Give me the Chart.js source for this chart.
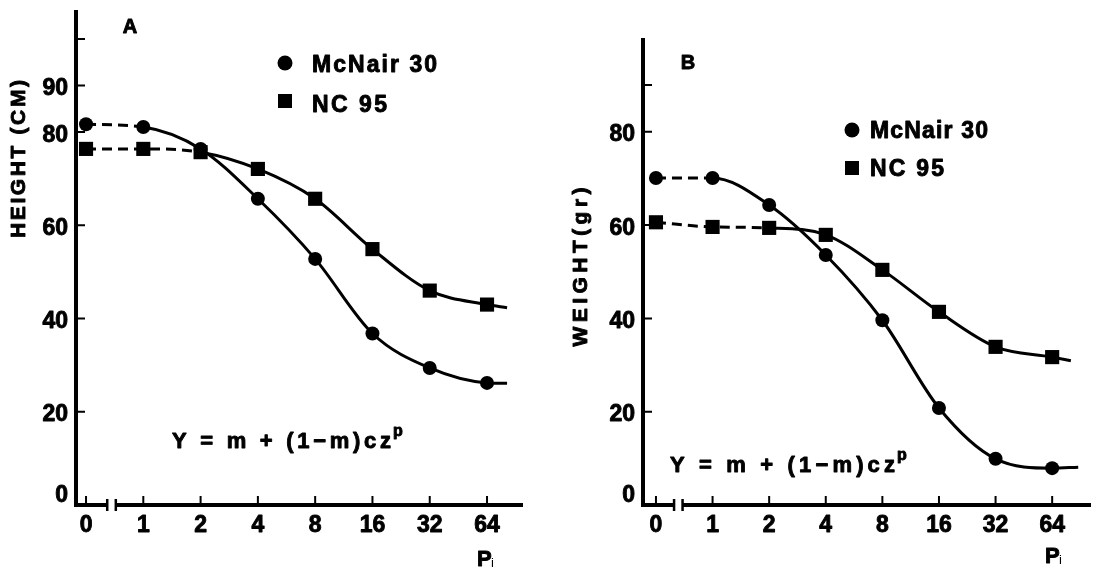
<!DOCTYPE html>
<html><head><meta charset="utf-8">
<script src="https://cdn.jsdelivr.net/npm/chart.js@4.4.1/dist/chart.umd.min.js"></script>
<style>
html,body{margin:0;padding:0;background:#fff;width:1101px;height:571px;overflow:hidden}
canvas{position:absolute;top:0}
#a{left:0}
#b{left:550px}
</style></head><body>
<canvas id="a" width="550" height="571"></canvas>
<canvas id="b" width="551" height="571"></canvas>
<script>
// ---- data ----
const pLevels = [0, 1, 2, 3, 4, 5, 6, 7];            // evenly spaced positions of the P levels
const pLabels = ["0", "1", "2", "4", "8", "16", "32", "64"];
const heightMcNair = [81.7, 81.1, 76.4, 65.7, 52.8, 36.8, 29.4, 26.2];
const heightNC95   = [76.4, 76.4, 75.7, 72.1, 65.7, 54.9, 46.0, 43.0];
const weightMcNair = [70.1, 70.1, 64.3, 53.6, 39.6, 20.8, 9.9, 7.9];
const weightNC95   = [60.6, 59.6, 59.4, 57.9, 50.4, 41.4, 33.9, 31.7];
// where the fitted curves end, past the last observed point
const heightMcNairEnd = {x: 7.35, y: 26.1};
const heightNC95End   = {x: 7.35, y: 42.3};
const weightMcNairEnd = {x: 7.46, y: 8.1};
const weightNC95End   = {x: 7.33, y: 30.9};
const heightTicks = [0, 20, 40, 60, 80, 90, 100];
const heightTickLabels = ["0", "20", "40", "60", "80", "90", ""];
const weightTicks = [0, 20, 40, 60, 80, 90];
const weightTickLabels = ["0", "20", "40", "60", "80", ""];
const seriesNames = ["McNair 30", "NC 95"];

const FONT = '"Liberation Sans", Arial, sans-serif';
const HEAVY = 0.9;

function heavyText(ctx, s, x, y) {
  ctx.fillText(s, x, y);
  ctx.lineWidth = HEAVY; ctx.lineJoin = 'round';
  ctx.strokeText(s, x, y);
}

function fitText(ctx, str, x, yc, w, size, weight) {
  ctx.font = (weight || 'bold') + ' ' + size + 'px ' + FONT;
  ctx.textAlign = 'left';
  ctx.textBaseline = 'alphabetic';
  const chars = [...str];
  const widths = chars.map(c => ctx.measureText(c).width);
  const nat = widths.reduce((a, b) => a + b, 0);
  const gap = chars.length > 1 ? (w - nat) / (chars.length - 1) : 0;
  let cx = x;
  const base = yc + 0.36 * size;
  chars.forEach((c, i) => { heavyText(ctx, c, cx, base); cx += widths[i] + gap; });
}

function series(name, vals, end, style, dashUntil) {
  const data = vals.map((v, i) => ({x: pLevels[i], y: v}));
  data.push(end);
  const r = style === 'circle' ? 7 : 10;
  return {
    label: name, data,
    borderColor: '#000', backgroundColor: '#000', borderWidth: 3,
    pointStyle: style,
    pointRadius: c => c.dataIndex === data.length - 1 ? 0 : r,
    pointHoverRadius: c => c.dataIndex === data.length - 1 ? 0 : r,
    pointBorderWidth: 0,
    cubicInterpolationMode: 'monotone',
    fill: false,
    segment: { borderDash: c => c.p1DataIndex <= dashUntil ? [10, 6] : undefined }
  };
}

function decorPlugin(cfg) {
  return {
    id: 'decor',
    afterDraw(chart) {
      const ctx = chart.ctx, ox = cfg.ox;
      const {left, right, top, bottom} = chart.chartArea;
      const xs = chart.scales.x, ys = chart.scales.y;
      ctx.save();
      ctx.strokeStyle = '#000'; ctx.fillStyle = '#000'; ctx.lineCap = 'butt';
      // y axis
      ctx.lineWidth = 4;
      ctx.beginPath(); ctx.moveTo(left, top); ctx.lineTo(left, bottom + 2); ctx.stroke();
      // x axis with break
      const b0 = xs.getPixelForValue(cfg.brk[0]), b1 = xs.getPixelForValue(cfg.brk[1]);
      ctx.beginPath(); ctx.moveTo(left - 2, bottom); ctx.lineTo(b0, bottom);
      ctx.moveTo(b1, bottom); ctx.lineTo(right, bottom); ctx.stroke();
      ctx.lineWidth = 2.5;
      ctx.beginPath();
      [b0, b1].forEach(bx => { ctx.moveTo(bx, bottom - 6); ctx.lineTo(bx, bottom + 6); });
      ctx.stroke();
      // inward tick marks
      ctx.lineWidth = 2;
      ctx.beginPath();
      pLevels.forEach(v => { const px = xs.getPixelForValue(v); ctx.moveTo(px, bottom - 2); ctx.lineTo(px, bottom - 9); });
      cfg.yTicks.forEach(v => { if (v === 0) return; const py = ys.getPixelForValue(v); ctx.moveTo(left + 2, py); ctx.lineTo(left + 9, py); });
      ctx.stroke();
      // tick labels, placed with the chart's scales
      ctx.font = 'bold 23px ' + FONT; ctx.textBaseline = 'alphabetic';
      ctx.textAlign = 'center';
      pLevels.forEach((v, i) => heavyText(ctx, pLabels[i], xs.getPixelForValue(v), bottom + 27));
      ctx.textAlign = 'right';
      cfg.yTicks.forEach((v, i) => {
        const py = v === 0 ? bottom - 12 : ys.getPixelForValue(v) + 1;
        heavyText(ctx, cfg.yLabels[i], left - 8, py + 8.5);
      });
      // panel letter
      ctx.font = 'bold 20px ' + FONT; ctx.textAlign = 'center';
      heavyText(ctx, cfg.letter, cfg.letterPos[0] - ox, cfg.letterPos[1] + 7);
      // legend
      const L = cfg.legend;
      ctx.beginPath(); ctx.arc(L.cx - ox, L.y1, 7.5, 0, Math.PI * 2); ctx.fill();
      ctx.fillRect(L.cx - ox - 7, L.y2 - 7, 14, 14);
      fitText(ctx, seriesNames[0], L.tx - ox, L.t1, L.w1, 23);
      fitText(ctx, seriesNames[1], L.tx - ox, L.t2, L.w2, 23);
      // formula
      const F = cfg.formula;
      fitText(ctx, 'Y = m + (1\u2212m)cz', F.x - ox, F.y, F.w, 22);
      ctx.font = 'bold 16px ' + FONT; ctx.textAlign = 'left';
      heavyText(ctx, 'p', F.x + F.w + 2 - ox, F.y - 4);
      // y title
      ctx.save();
      ctx.translate(cfg.title.x - ox, cfg.title.y); ctx.rotate(-Math.PI / 2);
      fitText(ctx, cfg.title.text, -cfg.title.w / 2, 0, cfg.title.w, 21);
      ctx.restore();
      // x title P_i
      ctx.font = 'bold 22px ' + FONT; ctx.textAlign = 'left';
      heavyText(ctx, 'P', cfg.pPos[0] - ox, cfg.pPos[1] + 8);
      ctx.font = '13px ' + FONT;
      ctx.fillText('i', cfg.pPos[0] + 14 - ox, cfg.pPos[1] + 9);
      ctx.restore();
    }
  };
}

function makeChart(id, ds, cfg) {
  return new Chart(document.getElementById(id), {
    type: 'line',
    data: { datasets: ds },
    options: {
      responsive: false, animation: false, devicePixelRatio: 1,
      layout: { padding: cfg.padding },
      events: [],
      plugins: { legend: { display: false }, tooltip: { enabled: false } },
      scales: {
        x: {
          type: 'linear', min: cfg.xMin, max: cfg.xMax,
          afterBuildTicks: s => { s.ticks = pLevels.map(v => ({value: v})); },
          afterFit: s => { s.height = 66; },
          ticks: { display: false },
          grid: { display: false, drawTicks: false }, border: { display: false }
        },
        y: {
          type: 'linear', min: 0, max: cfg.yMax,
          afterBuildTicks: s => { s.ticks = cfg.yTicks.map(v => ({value: v})); },
          afterFit: s => { s.width = cfg.yWidth; },
          ticks: { display: false },
          grid: { display: false, drawTicks: false }, border: { display: false }
        }
      }
    },
    plugins: [decorPlugin(cfg)]
  });
}

makeChart('a', [
  series(seriesNames[0], heightMcNair, heightMcNairEnd, 'circle', 1),
  series(seriesNames[1], heightNC95, heightNC95End, 'rect', 2)
], {
  ox: 0, padding: {left: 0, right: 27, top: 7, bottom: 0}, yWidth: 76,
  xMin: -0.175, xMax: 7.628, yMax: 106.2,
  yTicks: heightTicks, yLabels: heightTickLabels, brk: [0.37, 0.52],
  letter: 'A', letterPos: [130, 26],
  legend: {cx: 285, y1: 63, y2: 101, tx: 312, t1: 64, t2: 104, w1: 125, w2: 75},
  formula: {x: 172, y: 440, w: 219},
  title: {text: 'HEIGHT (CM)', x: 17.5, y: 159, w: 158},
  pPos: [477, 558]
});

makeChart('b', [
  series(seriesNames[0], weightMcNair, weightMcNairEnd, 'circle', 1),
  series(seriesNames[1], weightNC95, weightNC95End, 'rect', 2)
], {
  ox: 550, padding: {left: 0, right: 8, top: 38, bottom: 0}, yWidth: 93,
  xMin: -0.229, xMax: 7.686, yMax: 100.1,
  yTicks: weightTicks, yLabels: weightTickLabels, brk: [0.32, 0.47],
  letter: 'B', letterPos: [688, 62],
  legend: {cx: 852, y1: 130, y2: 168, tx: 870, t1: 130, t2: 168, w1: 118, w2: 74},
  formula: {x: 670, y: 464, w: 225},
  title: {text: 'WEIGHT(gr)', x: 579, y: 267, w: 159},
  pPos: [1045, 555]
});
</script>
</body></html>
